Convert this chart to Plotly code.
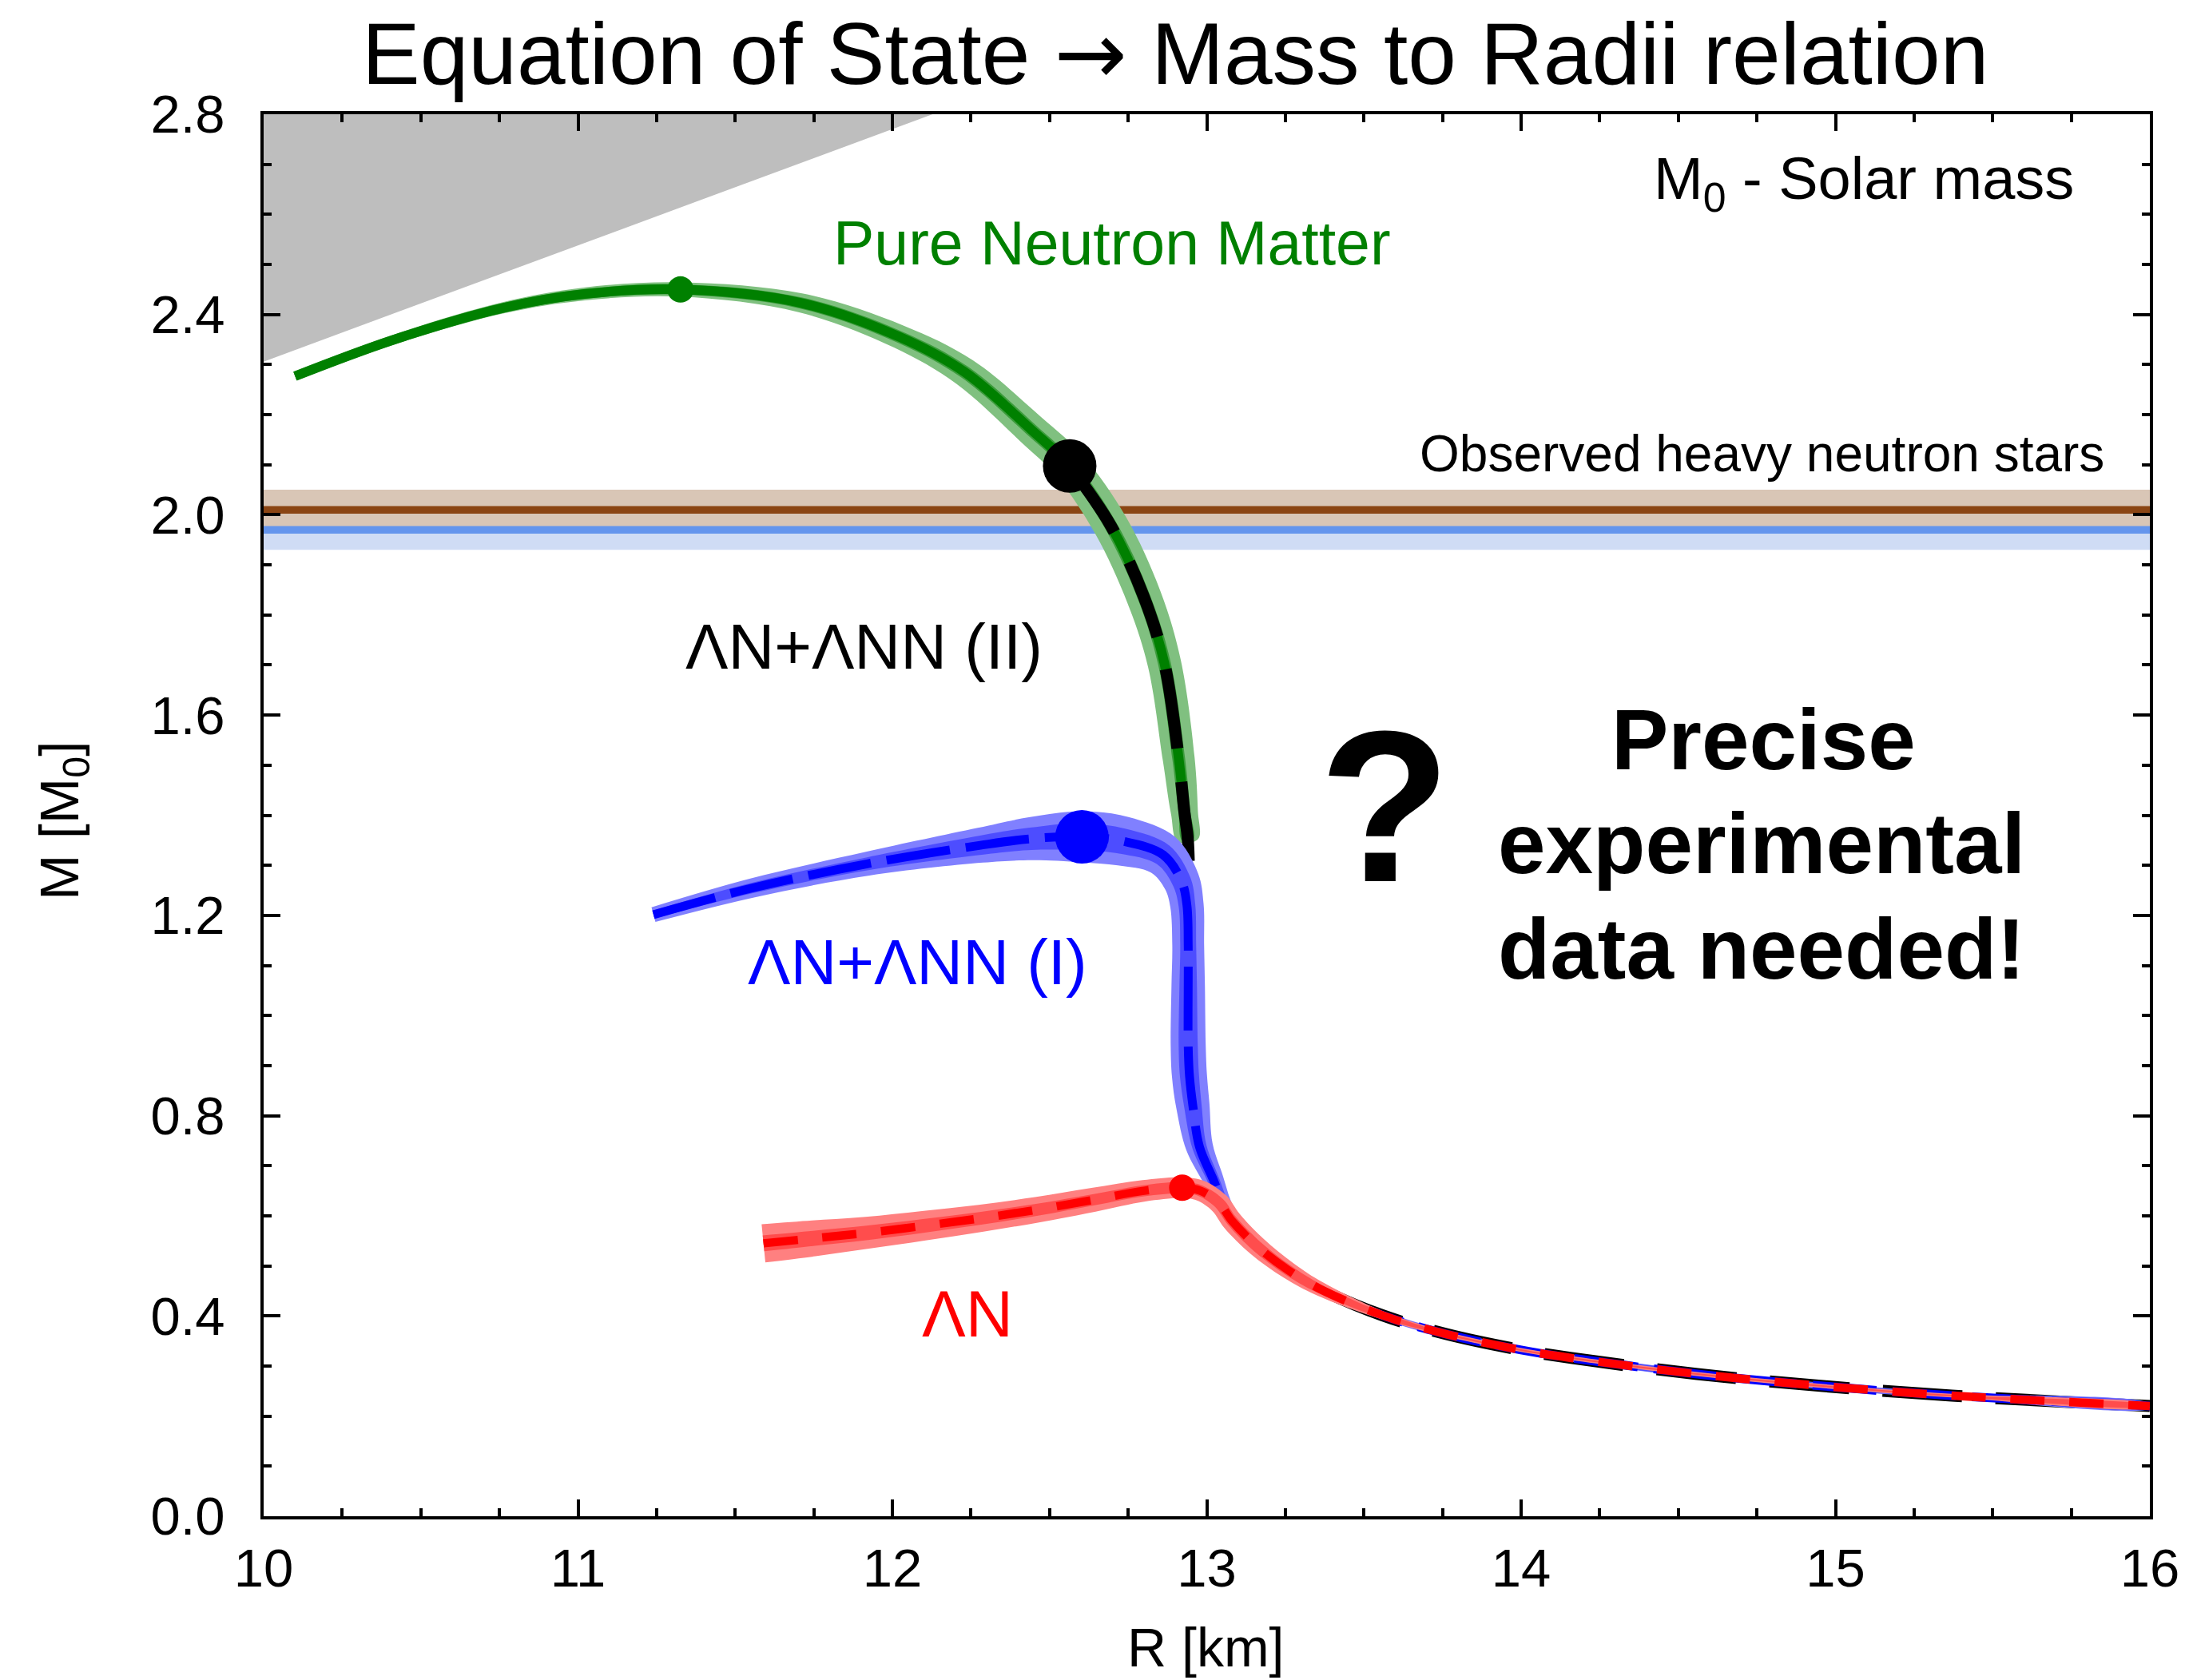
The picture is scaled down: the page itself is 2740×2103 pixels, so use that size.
import numpy as np
import plotly.graph_objects as go

# ---------------------------------------------------------------- data
# Shared low-mass tail of all mass-radius curves
TAIL_R = [13.16, 13.26, 13.36, 13.56, 13.76, 14.00, 14.16, 14.56, 14.96, 15.37, 16.00]
TAIL_M = [0.539, 0.491, 0.454, 0.401, 0.364, 0.332, 0.316, 0.284, 0.260, 0.241, 0.220]

# Pure neutron matter (upper branch down to where it merges with the hyperon curves)
PNM_R = [10.10, 10.41, 10.76, 11.02, 11.326, 11.71, 12.02, 12.23, 12.44, 12.564,
         12.695, 12.80, 12.865, 12.911, 12.929, 12.94]
PNM_M = [2.277, 2.349, 2.413, 2.441, 2.450, 2.423, 2.356, 2.285, 2.171, 2.0975,
         1.978, 1.836, 1.704, 1.512, 1.406, 1.350]

# Common vertical section leading into the tail
VERT_R = [12.945, 12.943, 12.953, 12.975, 13.02, 13.05, 13.08]
VERT_M = [1.100, 0.940, 0.819, 0.7375, 0.672, 0.625, 0.590]

# Lambda N + Lambda NN (I)
HYP1_R = [11.24, 11.55, 11.92, 12.28, 12.44, 12.603, 12.734, 12.861, 12.92, 12.937,
          12.941, 12.941, 12.941, 12.945, 12.956, 12.977, 13.021, 13.05, 13.08]
HYP1_M = [1.2015, 1.254, 1.303, 1.340, 1.353, 1.357, 1.348, 1.321, 1.268, 1.220,
          1.141, 1.060, 0.941, 0.880, 0.819, 0.7375, 0.672, 0.625, 0.590]

# Lambda N only
HYP0_R = [11.59, 11.75, 11.92, 12.10, 12.28, 12.46, 12.64, 12.80, 12.922, 12.98, 13.04, 13.08]
HYP0_M = [0.545, 0.555, 0.566, 0.580, 0.595, 0.612, 0.632, 0.650, 0.656, 0.650, 0.625, 0.590]

# Maximum-mass configurations
MAX_PNM = (11.326, 2.450)
MAX_II = (12.564, 2.0975)
MAX_I = (12.603, 1.357)
MAX_0 = (12.922, 0.656)

# Observed heavy neutron stars: mass and 1-sigma error
OBS_MASS = [1.97, 2.01]
OBS_ERR = [0.04, 0.04]

# Causality-excluded region boundary
CAUS_R = [10.0, 12.128]
CAUS_M = [2.306, 2.800]

X_TICKS = [10, 11, 12, 13, 14, 15, 16]
Y_TICKS = [0.0, 0.4, 0.8, 1.2, 1.6, 2.0, 2.4, 2.8]

# ---------------------------------------------------------------- geometry / styles
W, H = 2740, 2103
M_L, M_R, M_T, M_B = 330, 40, 143, 205
PLOT_W, PLOT_H = W - M_L - M_R, H - M_T - M_B
XR, YR = (10, 16), (0, 2.8)
PX_PER_KM = PLOT_W / (XR[1] - XR[0])
PX_PER_MSUN = PLOT_H / (YR[1] - YR[0])

FONT = "Liberation Sans, Arial, Helvetica, sans-serif"

# half-widths (px) of the uncertainty bands, one value per curve point
PNM_OUTER = [5.5, 6, 7, 8, 9, 12, 15, 18, 20, 21, 22, 22, 21, 20, 17, 13]
PNM_INNER = [5.5, 5.5, 6, 6, 6.5, 7, 7.5, 8, 8, 8, 8, 8, 8, 8, 7.5, 7]

TAIL_BLUE_OUTER = [9, 7, 6, 5, 4.5, 4.5, 4.5, 4.5, 4, 3.5, 3]
TAIL_BLUE_INNER = [6, 5, 4.5, 4, 4, 4, 4, 4, 3.5, 3, 2.5]
HYP1_OUTER = [9.5, 12, 15, 22, 27, 32, 31, 27, 23, 21, 20, 21, 22, 22, 21, 17, 13, 11, 10] + TAIL_BLUE_OUTER
HYP1_INNER = [5, 6.5, 8, 12, 14, 17, 16, 14, 12, 10.5, 10, 11, 12, 12, 11, 9, 7.5, 7, 6.5] + TAIL_BLUE_INNER

TAIL_RED_OUTER = [12.5, 11, 9, 5, 3, 2.5, 2.5, 2.5, 2.5, 2.2, 2]
TAIL_RED_INNER = [7, 6.5, 5.5, 3.5, 1.5, 1, 1, 1, 1, 1, 1]
HYP0_OUTER = [24, 22.5, 20, 18.5, 17, 16, 15, 13.5, 13, 13, 13, 13] + TAIL_RED_OUTER
HYP0_INNER = [10, 9.5, 9, 8.5, 8, 7.5, 7, 7, 7, 7, 7, 7] + TAIL_RED_INNER


def band_outline(r, m, half_px):
    """Closed outline of a band of given pixel half-width around a curve."""
    x = np.asarray(r, float) * PX_PER_KM
    y = np.asarray(m, float) * PX_PER_MSUN
    dx, dy = np.gradient(x), np.gradient(y)
    n = np.hypot(dx, dy)
    nx, ny = -dy / n, dx / n
    h = np.asarray(half_px, float)
    xs = np.concatenate([x + nx * h, (x - nx * h)[::-1]]) / PX_PER_KM
    ys = np.concatenate([y + ny * h, (y - ny * h)[::-1]]) / PX_PER_MSUN
    return xs, ys


fig = go.Figure()


def add_band(r, m, half, color):
    xs, ys = band_outline(r, m, half)
    fig.add_trace(go.Scatter(x=xs, y=ys, mode="lines", fill="toself",
                             fillcolor=color, line=dict(width=0, color=color, shape="spline"),
                             hoverinfo="skip", showlegend=False))


def add_line(r, m, color, width, dash="solid"):
    fig.add_trace(go.Scatter(x=r, y=m, mode="lines",
                             line=dict(color=color, width=width, dash=dash, shape="spline"),
                             hoverinfo="skip", showlegend=False))


# causality-excluded region
fig.add_trace(go.Scatter(x=CAUS_R + [CAUS_R[0]], y=CAUS_M + [CAUS_M[1]], mode="lines",
                         fill="toself", fillcolor="#bebebe", line=dict(width=0),
                         hoverinfo="skip", showlegend=False))

# observed heavy neutron stars (J1614-2230 below, J0348+0432 above)
band_colors = ["#cfdcf5", "#d9c6b6"]
line_colors = ["#6495ed", "#8b4513"]
for mc, err, bc in zip(OBS_MASS, OBS_ERR, band_colors):
    fig.add_trace(go.Scatter(x=[XR[0], XR[1], XR[1], XR[0]],
                             y=[mc - err, mc - err, mc + err, mc + err],
                             mode="lines", fill="toself", fillcolor=bc, line=dict(width=0),
                             hoverinfo="skip", showlegend=False))
for mc, lc in zip(OBS_MASS, line_colors):
    add_line([XR[0], XR[1]], [mc, mc], lc, 9.5)

# pure neutron matter
add_band(PNM_R, PNM_M, PNM_OUTER, "#80c080")
add_band(PNM_R, PNM_M, PNM_INNER, "#3c9c3c")
add_line(PNM_R, PNM_M, "#008000", 12)

# Lambda N + Lambda NN (II): follows PNM from its maximum mass downwards
i0 = PNM_R.index(MAX_II[0])
II_R = PNM_R[i0:] + VERT_R + TAIL_R
II_M = PNM_M[i0:] + VERT_M + TAIL_M
add_line(II_R, II_M, "black", 15, "100px,42px")

# Lambda N + Lambda NN (I)
I_R = HYP1_R + TAIL_R
I_M = HYP1_M + TAIL_M
add_band(I_R, I_M, HYP1_OUTER, "#8080ff")
add_band(I_R, I_M, HYP1_INNER, "#4d4dff")
add_line(I_R, I_M, "#0000ff", 11, "80px,20px")

# Lambda N
N_R = HYP0_R + TAIL_R
N_M = HYP0_M + TAIL_M
add_band(N_R, N_M, HYP0_OUTER, "#ff8080")
add_band(N_R, N_M, HYP0_INNER, "#ff4d4d")
add_line(N_R, N_M, "#ff0000", 10.5, "43px,31px")

# maximum-mass markers
for (r, m), col, size in [(MAX_PNM, "#008000", 33), (MAX_II, "black", 67),
                          (MAX_I, "#0000ff", 67), (MAX_0, "#ff0000", 33)]:
    fig.add_trace(go.Scatter(x=[r], y=[m], mode="markers",
                             marker=dict(color=col, size=size, line=dict(width=0)),
                             hoverinfo="skip", showlegend=False))

# ---------------------------------------------------------------- labels
def label(x, y, text, size, color="black", bold=False, xref="x", yref="y", angle=0,
          yanchor="middle"):
    fig.add_annotation(x=x, y=y, xref=xref, yref=yref, text=text, showarrow=False,
                       xanchor="center", yanchor=yanchor, textangle=angle,
                       font=dict(family=FONT, size=size, color=color,
                                 weight="bold" if bold else "normal"))


label(12.70, 2.543, "Pure Neutron Matter", 77, "#008000")
label(15.09, 2.663, "M<sub>0</sub> - Solar mass", 74)
label(14.765, 2.122, "Observed heavy neutron stars", 64)
label(11.91, 1.737, "ΛN+ΛNN (II)", 80)
label(12.08, 1.107, "ΛN+ΛNN (I)", 80, "#0000ff")
label(12.24, 0.405, "ΛN", 82, "#ff0000")
label(13.567, 1.417, "?", 270, bold=True)
label(14.77, 1.550, "Precise", 107, bold=True)
label(14.765, 1.343, "experimental", 107, bold=True)
label(14.765, 1.132, "data needed!", 107, bold=True)

# title and axis titles
label((1475 - M_L) / PLOT_W, (H - M_B - 2) / PLOT_H,
      "Equation of State <span style=\"font-family:'DejaVu Sans'\">→</span> Mass to Radii relation",
      109, xref="paper", yref="paper", yanchor="top")
label(0.4992, (H - M_B - 2062) / PLOT_H, "R [km]", 68, xref="paper", yref="paper")
label((78 - M_L) / PLOT_W, (H - M_B - 1027) / PLOT_H, "M [M<sub>0</sub>]", 69,
      xref="paper", yref="paper", angle=-90)

axis_common = dict(showline=True, linewidth=4, linecolor="black", mirror="ticks",
                   ticks="inside", ticklen=21, tickwidth=3.5, tickcolor="black",
                   showgrid=False, zeroline=False,
                   tickfont=dict(family=FONT, size=67, color="black"))

fig.update_xaxes(range=list(XR), tickvals=X_TICKS, ticktext=[str(v) for v in X_TICKS],
                 minor=dict(ticks="inside", ticklen=10, tickwidth=3.5, tickcolor="black",
                            dtick=0.25, showgrid=False),
                 ticklabelstandoff=4, **axis_common)
fig.update_yaxes(range=list(YR), tickvals=Y_TICKS, ticktext=[f"{v:.1f}" for v in Y_TICKS],
                 minor=dict(ticks="inside", ticklen=10, tickwidth=3.5, tickcolor="black",
                            dtick=0.1, showgrid=False),
                 ticklabelstandoff=31, **axis_common)

fig.update_layout(width=W, height=H, margin=dict(l=M_L, r=M_R, t=M_T, b=M_B),
                  plot_bgcolor="white", paper_bgcolor="white", showlegend=False)

fig.write_html("out.html")
